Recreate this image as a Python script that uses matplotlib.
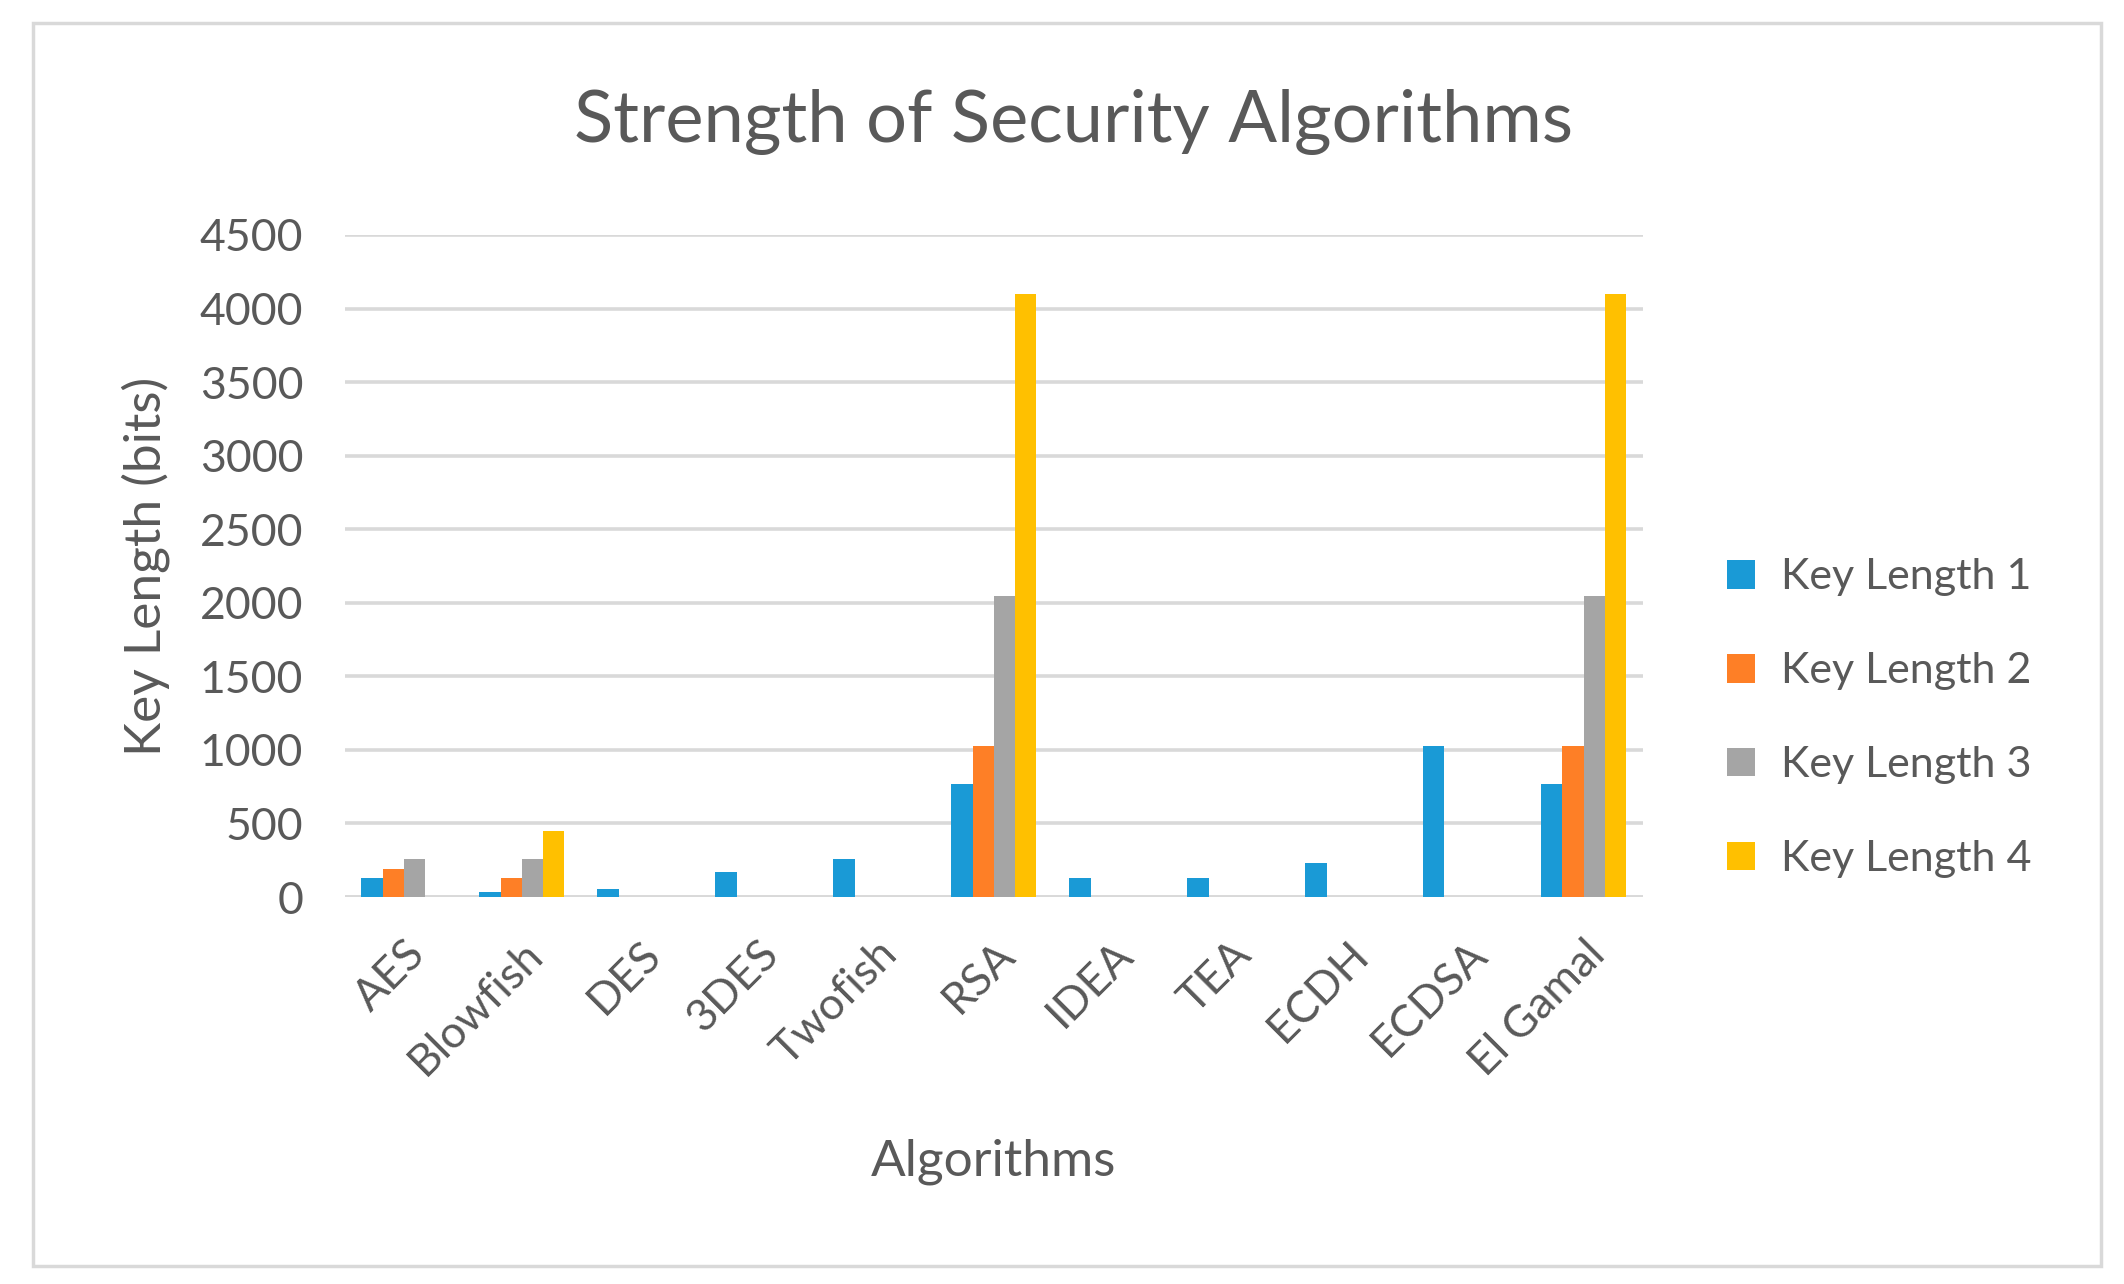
import matplotlib
matplotlib.use("Agg")
import matplotlib.pyplot as plt
import numpy as np
from matplotlib.patches import Rectangle

plt.rcParams['font.family'] = ['Lato', 'DejaVu Sans']

# data
algorithms = ["AES", "Blowfish", "DES", "3DES", "Twofish", "RSA", "IDEA", "TEA", "ECDH", "ECDSA", "El Gamal"]
key_length_1 = [128, 32, 56, 168, 256, 768, 128, 128, 233, 1024, 768]
key_length_2 = [192, 128, 0, 0, 0, 1024, 0, 0, 0, 0, 1024]
key_length_3 = [256, 256, 0, 0, 0, 2048, 0, 0, 0, 0, 2048]
key_length_4 = [0, 448, 0, 0, 0, 4096, 0, 0, 0, 0, 4096]
series_names = ["Key Length 1", "Key Length 2", "Key Length 3", "Key Length 4"]
y_ticks = [0, 500, 1000, 1500, 2000, 2500, 3000, 3500, 4000, 4500]

colors = ["#1a9ad6", "#fe7f26", "#a5a5a5", "#ffc000"]
text_col = "#595959"
grid_col = "#d9d9d9"

fig = plt.figure(figsize=(21.24, 12.84), dpi=100)

# outer chart frame
fig.patches.append(Rectangle((33 / 2124, 1 - 1266 / 1284), (2101 - 33) / 2124, (1266 - 23) / 1284,
                             transform=fig.transFigure, fill=False, edgecolor=grid_col, linewidth=2.5))

ax = fig.add_axes([0.1624, 0.3014, 0.611, 0.5156])

x = np.arange(len(algorithms))
w = 0.18
all_series = [key_length_1, key_length_2, key_length_3, key_length_4]
for i, vals in enumerate(all_series):
    ax.bar(x + (i - 1.5) * w, vals, width=w, color=colors[i], label=series_names[i], zorder=3)

ax.set_xlim(-0.5, len(algorithms) - 0.5)
ax.set_ylim(0, 4500)
ax.set_yticks(y_ticks)
ax.yaxis.grid(True, color=grid_col, linewidth=2.6, zorder=0)
ax.set_axisbelow(True)
for s in ax.spines.values():
    s.set_visible(False)
ax.axhline(0, color=grid_col, linewidth=2.6, zorder=1)
ax.tick_params(axis='both', length=0, colors=text_col, labelsize=32)
ax.tick_params(axis='y', pad=30)
ax.set_xticks(x)
ax.set_xticklabels(algorithms, rotation=45, ha='right', va='top', rotation_mode='anchor')
ax.tick_params(axis='x', pad=26)
for lab in ax.get_xticklabels() + ax.get_yticklabels():
    lab.set_color(text_col)

ax.set_ylabel("Key Length (bits)", fontsize=37, color=text_col)
ax.yaxis.set_label_coords(-0.135, 0.5)
ax.set_xlabel("Algorithms", fontsize=37, color=text_col)
ax.xaxis.set_label_coords(0.5, -0.4)
ax.xaxis.label.set_va('center')

fig.text(0.5055, 0.905, "Strength of Security Algorithms", ha='center', va='center',
         fontsize=52, color=text_col)

leg = ax.legend(loc='center left', bbox_to_anchor=(1.035, 0.27), frameon=False,
                fontsize=31, labelcolor=text_col, handlelength=0.65, handleheight=0.65,
                handletextpad=0.6, labelspacing=1.3)

fig.savefig("out.png", dpi=100)
